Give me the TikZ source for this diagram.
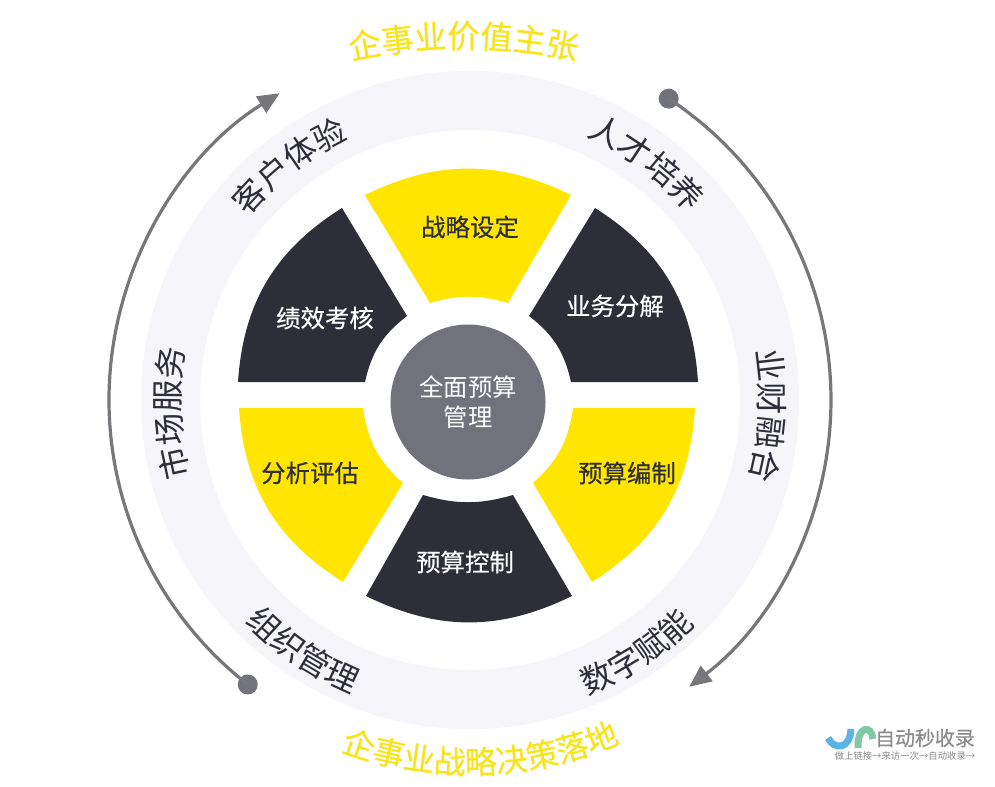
\documentclass[tikz,border=0pt]{standalone}
\usepackage{fontspec}
\usepackage{tikz}
\usetikzlibrary{arrows.meta}
\usetikzlibrary{decorations.text}
\newfontfamily\cjk{Noto Sans CJK SC}
\newfontfamily\cjkmid[FakeBold=0.4]{Noto Sans CJK SC}
\definecolor{sectoryellow}{HTML}{FFE500}
\definecolor{titleyellow}{HTML}{F8E41A}
\definecolor{sectordark}{HTML}{2D2E38}
\definecolor{hubgray}{HTML}{71727C}
\definecolor{ringgray}{HTML}{F5F5FA}
\definecolor{arcgray}{HTML}{77777B}
\definecolor{markgray}{HTML}{8A8A8A}
\definecolor{markblue}{HTML}{5CB3E6}
\definecolor{markgreen}{HTML}{7FC9A4}
\tikzset{
  seclabel/.style={font=\cjkmid\fontsize{24.5}{30}\selectfont,inner sep=0pt},
  ringtext/.style={decorate,decoration={text along path,text align=center,text={#1}}},
  arcdot/.style={circle,fill=hubgray,minimum size=20bp,inner sep=0pt},
  arcline/.style={arcgray,line width=3.2bp,-{Triangle[length=22bp,width=19bp]}},
}
\newcommand{\ringfont}{\cjk\fontsize{32.5}{33}\selectfont\color{sectordark}}
\newcommand{\topfont}{\cjkmid\fontsize{32.5}{33}\selectfont\color{titleyellow}}
\newcommand{\lowfont}{\cjkmid\fontsize{32}{33}\selectfont\color{titleyellow}}
\begin{document}
\begin{tikzpicture}[x=1bp,y=1bp,>=latex]
\useasboundingbox (0,0) rectangle (995,-787);
\fill[white] (0,0) rectangle (995,-787);
%% ring
\fill[ringgray,even odd rule] (470,-400) circle (329) (470,-400) circle (270);
%% sectors
\fill[sectoryellow] (365,-195) to[bend left=26] (571,-195) -- (508,-303) to[bend right=16] (430,-303) -- cycle;
\fill[sectordark] (595,-208) to[bend left=27] (698,-382) -- (571,-382) to[bend right=20] (529,-316) -- cycle;
\fill[sectoryellow] (695,-408) to[bend left=27] (592,-582) -- (533,-483) to[bend right=20] (573,-408) -- cycle;
\fill[sectordark] (572,-596) to[bend left=26] (366,-596) -- (423,-495) to[bend right=16] (513,-495) -- cycle;
\fill[sectoryellow] (343,-582) to[bend left=27] (239,-408) -- (363,-408) to[bend right=20] (403,-483) -- cycle;
\fill[sectordark] (238,-382) to[bend left=27] (342,-208) -- (407,-316) to[bend right=20] (365,-382) -- cycle;
%% hub and sector labels
\node (hub) at (468,-402) [circle,fill=hubgray,minimum size=155bp,inner sep=0pt,align=center,text=white,font=\cjk\fontsize{24.5}{30}\selectfont] {全面预算\\管理};
\node (sec_plan) at (470,-227) [seclabel,text=sectordark] {战略设定};
\node (sec_split) at (615,-306) [seclabel,text=white] {业务分解};
\node (sec_budget) at (627,-473) [seclabel,text=sectordark] {预算编制};
\node (sec_control) at (465,-562) [seclabel,text=white] {预算控制};
\node (sec_review) at (310,-473) [seclabel,text=sectordark] {分析评估};
\node (sec_assess) at (325,-318) [seclabel,text=white] {绩效考核};
%% ring labels and the two arcs
\begin{scope}[shift={(470,-400)}]
\path[ringtext={|\ringfont|客户体验}] (160:288) arc[start angle=160,end angle=95.4,radius=288];
\path[ringtext={|\ringfont|人才培养}] (86:288) arc[start angle=86,end angle=20.8,radius=288];
\path[ringtext={|\ringfont|业财融合}] (29:290) arc[start angle=29,end angle=-35,radius=290];
\path[ringtext={|\ringfont|数字赋能}] (-90:318) arc[start angle=-90,end angle=-23.2,radius=318];
\path[ringtext={|\ringfont|组织管理}] (-157:316) arc[start angle=-157,end angle=-90.2,radius=316];
\path[ringtext={|\ringfont|市场服务}] (215:290) arc[start angle=215,end angle=150,radius=290];
\path[ringtext={|\lowfont|企事业战略决策落地}] (-128:374) arc[start angle=-128,end angle=-48.6,radius=374];
\node (dot_right) at (56.6:361) [arcdot] {};
\node (dot_left) at (232:361) [arcdot] {};
\draw[arcline] (dot_right.center) arc[start angle=56.6,end angle=-52.6,radius=361];
\draw[arcline] (dot_left.center) arc[start angle=232,end angle=121.8,radius=361];
\end{scope}
\path[shift={(463.5,-578)},ringtext={|\topfont|企事业价值主张}] (110:530) arc[start angle=110,end angle=70,radius=530];
%% mark in the corner
\draw[markblue,line width=7bp] (828,-738) .. controls (834,-750) and (850,-750) .. (851,-729);
\draw[markgreen,line width=7bp] (858,-748) .. controls (857,-725) and (872,-725) .. (873,-739);
\node (mark_main) at (925,-738) [inner sep=0pt,text=markgray,font=\cjkmid\fontsize{20}{20}\selectfont] {自动秒收录};
\node (mark_sub) at (905,-756) [inner sep=0pt,text=markgray,font=\cjk\fontsize{9.4}{9.4}\selectfont] {做上链接→来访一次→自动收录→};
\end{tikzpicture}
\end{document}
